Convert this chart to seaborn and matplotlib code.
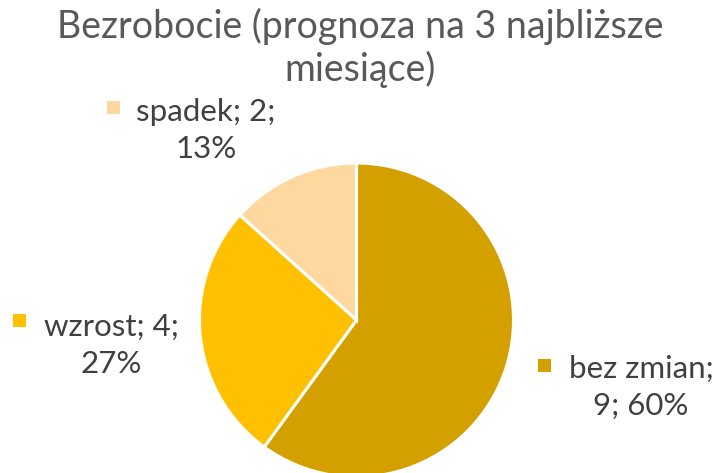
import numpy as np
import matplotlib.pyplot as plt
from matplotlib.patches import Rectangle
import seaborn as sns

sns.set_theme(style="white")
plt.rcParams["font.family"] = ["Lato", "DejaVu Sans"]

# ── data ─────────────────────────────────────────────────────────────────────
title = "Bezrobocie (prognoza na 3 najbliższe\nmiesiące)"
categories = ["bez zmian", "wzrost", "spadek"]
counts = [9, 4, 2]
colors = ["#D4A000", "#FFC000", "#FFD8A0"]

W, H = 720, 473
fig = plt.figure(figsize=(W / 100, H / 100), dpi=100)
ax = fig.add_axes([0, 0, 1, 1])

# pie in pixel coordinates (y measured from bottom)
cx, cy, r = 356.5, H - 320, 157
ax.pie(counts, colors=colors, startangle=90, counterclock=False,
       center=(cx, cy), radius=r, frame=True,
       wedgeprops=dict(edgecolor="white", linewidth=2.2))
ax.set_xlim(0, W)
ax.set_ylim(0, H)
ax.set_aspect("equal")
ax.axis("off")

# va="baseline" on multi-line text anchors the last line
fig.text(0.5, 1 - 81 / H, title, ha="center", va="baseline", fontsize=27,
         color="#595959", linespacing=1.2)

# data labels: legend key + "name; n;" / "pct%"
total = sum(counts)
pcts = [round(100 * c / total) for c in counts]
label_pos = {  # text centre x, last baseline y, key left x, key top y (pixels)
    "bez zmian": (641, 415, 538, 359),
    "wzrost": (111, 373, 13, 314),
    "spadek": (206, 158, 107, 101),
}
for cat, n, p, clr in zip(categories, counts, pcts, colors):
    tx, ty, kx, ky = label_pos[cat]
    if cat == "bez zmian":
        lines = [f"{cat};", f"{n}; {p}%"]
    else:
        lines = [f"{cat}; {n};", f"{p}%"]
    ax.text(tx, H - ty, "\n".join(lines), ha="center", va="baseline",
            fontsize=22.5, color="#404040", linespacing=1.38)
    ax.add_patch(Rectangle((kx, H - ky - 13), 13, 13, color=clr, lw=0))

fig.savefig("out.png", dpi=100)
